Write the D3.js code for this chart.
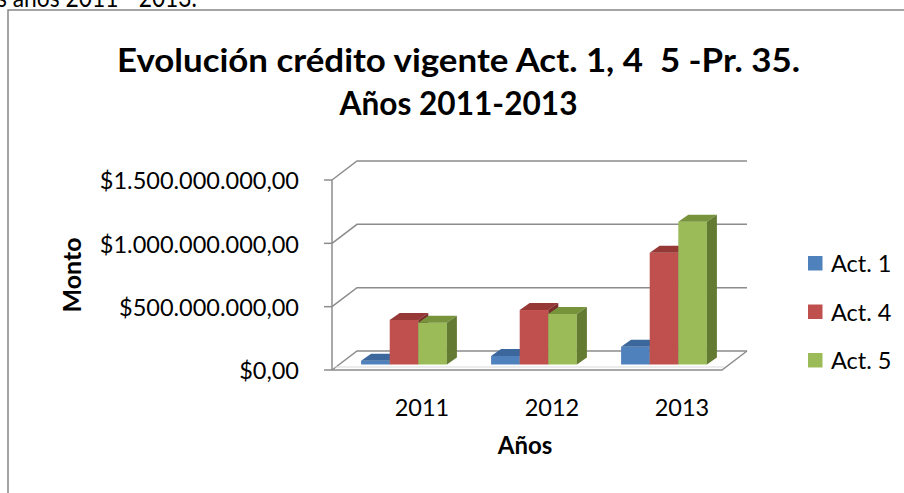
<!DOCTYPE html>
<html>
<head>
<meta charset="utf-8">
<script src="https://cdn.jsdelivr.net/npm/d3@7"></script>
<style>
  html, body { margin: 0; padding: 0; background: #fff; }
  svg { display: block; }
  text { font-family: Lato, "Open Sans", sans-serif; fill: #000; white-space: pre; }
</style>
</head>
<body>
<svg id="chart" width="904" height="493"></svg>
<script>
// ---- data ----
const categories = ["2011", "2012", "2013"];
const seriesNames = ["Act. 1", "Act. 4", "Act. 5"];
const act1 = [30000000, 67000000, 140000000];
const act4 = [352000000, 430000000, 882000000];
const act5 = [330000000, 399000000, 1127000000];
const yTicks = [0, 500000000, 1000000000, 1500000000];
const yTickLabels = ["$0,00", "$500.000.000,00", "$1.000.000.000,00", "$1.500.000.000,00"];
const titleLines = ["Evolución crédito vigente Act. 1, 4  5 -Pr. 35.", "Años 2011-2013"];
const xTitle = "Años";
const yTitle = "Monto";
const topText = "s años 2011 - 2013.";

const seriesValues = [act1, act4, act5];
const colors = {
  front: ["#4F81BD", "#C0504D", "#9BBB59"],
  top:   ["#3B679C", "#953836", "#77933C"],
  side:  ["#2F527D", "#7A2C2A", "#627A31"]
};

const svg = d3.select("#chart");

// page text above the chart box (cut by the top edge, as in the reference)
svg.append("text").attr("x", -3).attr("y", 7)
  .attr("textLength", 200).attr("lengthAdjust", "spacingAndGlyphs")
  .style("font-size", "27px").text(topText);

// chart box border (top and left visible)
svg.append("path").attr("d", "M8,493 L8,10 L904,10")
  .attr("fill", "none").attr("stroke", "#868686").attr("stroke-width", 1.5);

// ---- geometry ----
const x0 = 332, x1 = 722;
const depth = { dx: 25, dy: -19 };
const barOff = { dx: 7, dy: -5.5 };
const barDepth = { dx: 10, dy: -7 };

const y = d3.scaleLinear().domain([0, 1500000000]).range([370, 180]);
const xBand = d3.scaleBand().domain(categories).range([x0, x1])
  .paddingInner(0.34).paddingOuter(0.17);
const xInner = d3.scaleBand().domain(seriesNames).range([0, xBand.bandwidth()]);

const gridColor = "#8C8C8C";
const g = svg.append("g");

// back wall gridlines + side wall diagonals
yTicks.forEach(t => {
  const yy = y(t);
  g.append("path")
    .attr("d", `M${x0},${yy} L${x0 + depth.dx},${yy + depth.dy} L${x1 + depth.dx},${yy + depth.dy}`)
    .attr("fill", "none").attr("stroke", gridColor).attr("stroke-width", 1.5);
});
// floor front & right edges
g.append("path")
  .attr("d", `M${x0},${y(0)} L${x1},${y(0)} L${x1 + depth.dx},${y(0) + depth.dy}`)
  .attr("fill", "none").attr("stroke", gridColor).attr("stroke-width", 1.5);
g.append("path")
  .attr("d", `M${x0 + 3},${y(0) - 3} L${x1 + 2},${y(0) - 3}`)
  .attr("fill", "none").attr("stroke", "#D9D9D9").attr("stroke-width", 1);

// vertical axis + ticks
g.append("line").attr("x1", x0).attr("x2", x0).attr("y1", y(1500000000)).attr("y2", y(0))
  .attr("stroke", gridColor).attr("stroke-width", 1.5);
yTicks.forEach((t, i) => {
  g.append("line").attr("x1", x0 - 8).attr("x2", x0).attr("y1", y(t)).attr("y2", y(t))
    .attr("stroke", gridColor).attr("stroke-width", 1.5);
  svg.append("text").attr("x", 299).attr("y", y(t) + 1).attr("dy", "0.35em")
    .attr("text-anchor", "end").style("font-size", "23.5px").text(yTickLabels[i]);
});

// bars
const bars = svg.append("g");
categories.forEach((c, ci) => {
  seriesNames.forEach((s, si) => {
    const v = seriesValues[si][ci];
    const bx = xBand(c) + xInner(s) + barOff.dx;
    const bw = xInner.bandwidth();
    const by = y(v) + barOff.dy;
    const bb = y(0) + barOff.dy;
    bars.append("rect").attr("x", bx).attr("y", by).attr("width", bw).attr("height", bb - by)
      .attr("fill", colors.front[si]);
    bars.append("path")
      .attr("d", `M${bx},${by} L${bx + barDepth.dx},${by + barDepth.dy} L${bx + bw + barDepth.dx},${by + barDepth.dy} L${bx + bw},${by} Z`)
      .attr("fill", colors.top[si]);
    bars.append("path")
      .attr("d", `M${bx + bw},${by} L${bx + bw + barDepth.dx},${by + barDepth.dy} L${bx + bw + barDepth.dx},${bb + barDepth.dy} L${bx + bw},${bb} Z`)
      .attr("fill", colors.side[si]);
  });
});

// category labels
categories.forEach(c => {
  svg.append("text").attr("x", xBand(c) + xBand.bandwidth() / 2 + 25).attr("y", 408)
    .attr("dy", "0.35em").attr("text-anchor", "middle").style("font-size", "23.5px").text(c);
});

// axis titles
svg.append("text").attr("x", 525).attr("y", 446).attr("dy", "0.35em")
  .attr("text-anchor", "middle").style("font-size", "24px").style("font-weight", "bold").text(xTitle);
svg.append("text").attr("transform", "translate(72,275) rotate(-90)").attr("dy", "0.35em")
  .attr("text-anchor", "middle").style("font-size", "25px").style("font-weight", "bold").text(yTitle);

// title
const titleWidths = [683, 238];
titleLines.forEach((t, i) => {
  svg.append("text").attr("x", 458.5).attr("y", 60 + i * 43).attr("dy", "0.35em")
    .attr("text-anchor", "middle").attr("textLength", titleWidths[i])
    .attr("lengthAdjust", "spacingAndGlyphs")
    .style("font-size", "33px").style("font-weight", "bold").text(t);
});

// legend
seriesNames.forEach((s, i) => {
  const cy = 263 + i * 48.5;
  svg.append("rect").attr("x", 808).attr("y", cy - 7).attr("width", 14.5).attr("height", 14.5)
    .attr("fill", colors.front[i]);
  svg.append("text").attr("x", 831).attr("y", cy + 1).attr("dy", "0.35em")
    .style("font-size", "23.5px").text(s);
});
</script>
</body>
</html>
